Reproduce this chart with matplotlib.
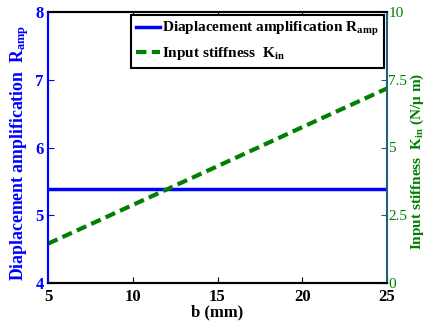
import matplotlib
matplotlib.use('agg')
import matplotlib.pyplot as plt

b = [5, 10, 15, 20, 25]
r_amp = [5.39, 5.39, 5.39, 5.39, 5.39]
k_in = [1.45, 2.88, 4.31, 5.75, 7.18]

plt.rcParams['font.family'] = ['Liberation Serif', 'DejaVu Serif']
plt.rcParams['mathtext.fontset'] = 'custom'
plt.rcParams['mathtext.rm'] = 'Liberation Serif:bold'
plt.rcParams['mathtext.it'] = 'Liberation Serif:bold'

fig = plt.figure(figsize=(4.3, 3.22), dpi=100)
ax = fig.add_axes([48/430, 1 - 283/322, 339/430, 271/322])
ax2 = ax.twinx()

l1, = ax.plot(b, r_amp, color='#0000ff', lw=2.5,
              label=r'Diaplacement amplification $\mathregular{R_{amp}}$')
l2, = ax2.plot(b, k_in, color='#007f00', lw=3, ls=(0, (2.5, 1.3)),
               label=r'Input stiffness  $\mathregular{K_{in}}$')

ax.set_xlim(5, 25)
ax.set_ylim(4, 8)
ax2.set_ylim(0, 10)
ax.set_xticks([5, 10, 15, 20, 25])
ax.set_yticks([4, 5, 6, 7, 8])
ax2.set_yticks([0, 2.5, 5, 7.5, 10])
ax2.set_yticklabels(['0', '2.5', '5', '7.5', '10'])

ax.tick_params(axis='x', direction='in', top=True, length=4, labelsize=12, pad=4)
ax.tick_params(axis='y', direction='in', length=4, labelsize=12, colors='#0000ff', pad=3)
ax2.tick_params(axis='y', direction='in', length=4, labelsize=11, colors='#007f00', pad=1)
for t in ax.get_xticklabels() + ax.get_yticklabels():
    t.set_fontweight('bold')
ax2.tick_params(axis='y', color='#1f5f7f')

ax.spines['left'].set_color('#0000ff')
ax2.spines['left'].set_color('#0000ff')
ax2.spines['right'].set_color('#1f5f7f')
for s in ['left', 'right', 'top', 'bottom']:
    ax.spines[s].set_linewidth(1.5)
    ax2.spines[s].set_linewidth(1.5)
ax.spines['right'].set_visible(False)

ax.set_xlabel('b (mm)', fontsize=12, fontweight='bold', labelpad=0)
ax.set_ylabel(r'Diaplacement amplification  $\mathregular{R_{amp}}$', fontsize=12.8,
              fontweight='bold', color='#0000ff', labelpad=3)
ax2.set_ylabel(r'Input stiffness  $\mathregular{K_{in}}$ (N/$\mathregular{\mu}$ m)', fontsize=11,
               fontweight='bold', color='#007f00', rotation=90, labelpad=1)
ax.yaxis.label.set_y(0.48)
ax2.yaxis.label.set_y(0.45)

leg = ax2.legend(handles=[l1, l2], loc='upper right', prop={'weight': 'bold', 'size': 11},
                 fancybox=False, framealpha=1, edgecolor='black', handlelength=1.6,
                 handletextpad=0.1, borderaxespad=0.2, borderpad=0.35, labelspacing=0.45)
leg.get_frame().set_linewidth(1.5)

plt.savefig('out.png', dpi=100)
